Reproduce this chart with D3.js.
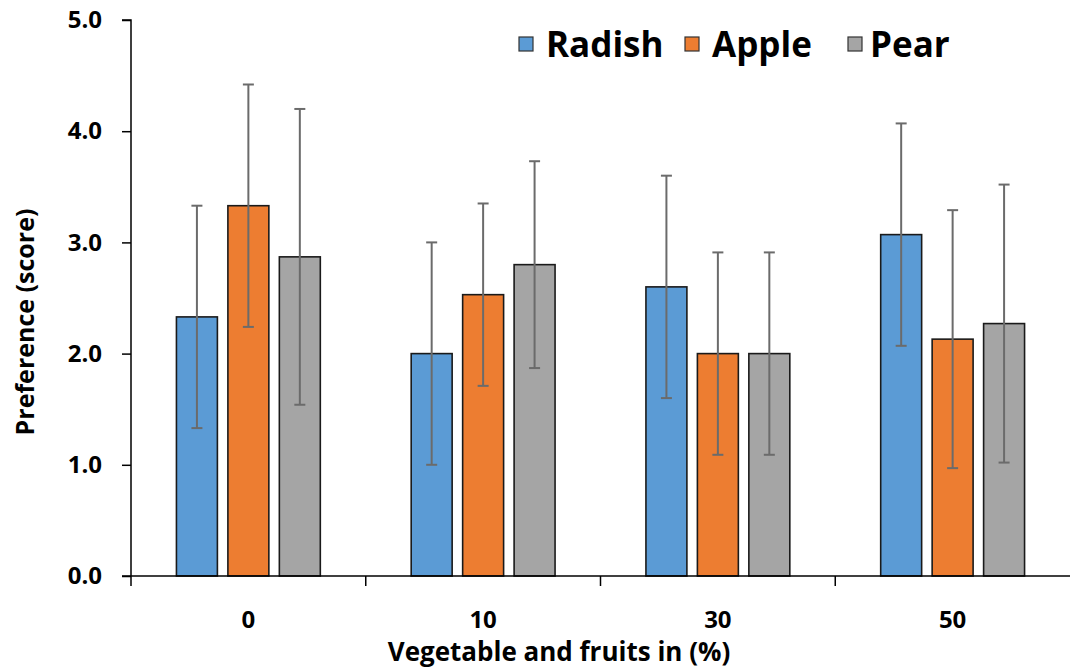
<!DOCTYPE html>
<html>
<head>
<meta charset="utf-8">
<script src="https://cdn.jsdelivr.net/npm/d3@7"></script>
<style>
  body { margin: 0; background: #fff; }
  text { font-family: "Open Sans", "Noto Sans", sans-serif; font-weight: bold; }
</style>
</head>
<body>
<svg id="chart"></svg>
<script>
// Chart data
const categories = ["0", "10", "30", "50"];
const seriesNames = ["Radish", "Apple", "Pear"];
const radish = [2.33, 2.00, 2.60, 3.07];
const apple = [3.33, 2.53, 2.00, 2.13];
const pear = [2.87, 2.80, 2.00, 2.27];
const radishErr = [1.00, 1.00, 1.00, 1.00];
const appleErr = [1.09, 0.82, 0.91, 1.16];
const pearErr = [1.33, 0.93, 0.91, 1.25];
const yTicks = [0, 1, 2, 3, 4, 5];

const colors = ["#5B9BD5", "#ED7D31", "#A5A5A5"];
const values = [radish, apple, pear];
const errors = [radishErr, appleErr, pearErr];

// SVG size
const width = 1070;
const height = 672;
const margin = { top: 20, right: 0, bottom: 96, left: 131 };

const svg = d3.select("#chart")
    .attr("width", width)
    .attr("height", height);

// Scales
const x0 = d3.scaleBand()
    .domain(categories)
    .range([margin.left, width - margin.right])
    .padding(0);

const x1 = d3.scaleBand()
    .domain(seriesNames)
    .range([0, x0.bandwidth()])
    .paddingInner(0.204)
    .paddingOuter(0.883);

const y = d3.scaleLinear()
    .domain([0, 5])
    .range([height - margin.bottom, margin.top]);

// Build rows for drawing
const rows = [];
categories.forEach((c, i) => {
    seriesNames.forEach((s, j) => {
        rows.push({ cat: c, series: s, value: values[j][i], err: errors[j][i], color: colors[j] });
    });
});

// Bars
svg.append("g")
    .selectAll("rect")
    .data(rows)
    .enter()
    .append("rect")
    .attr("x", d => x0(d.cat) + x1(d.series))
    .attr("y", d => y(d.value))
    .attr("width", x1.bandwidth())
    .attr("height", d => y(0) - y(d.value))
    .attr("fill", d => d.color)
    .attr("stroke", "#1a1a1a")
    .attr("stroke-width", 1.6);

// Error bars
const errG = svg.append("g")
    .attr("stroke", "#6b6b6b")
    .attr("stroke-width", 2);

rows.forEach(d => {
    const cx = x0(d.cat) + x1(d.series) + x1.bandwidth() / 2;
    const yTop = y(d.value + d.err);
    const yBot = y(d.value - d.err);
    errG.append("line").attr("x1", cx).attr("x2", cx).attr("y1", yTop).attr("y2", yBot);
    errG.append("line").attr("x1", cx - 5.5).attr("x2", cx + 5.5).attr("y1", yTop).attr("y2", yTop);
    errG.append("line").attr("x1", cx - 5.5).attr("x2", cx + 5.5).attr("y1", yBot).attr("y2", yBot);
});

// Y axis
const yAxis = svg.append("g")
    .attr("transform", `translate(${margin.left}, 0)`)
    .call(d3.axisLeft(y).tickValues(yTicks).tickFormat(d3.format(".1f")).tickSize(9).tickPadding(20));
yAxis.select(".domain").attr("stroke", "#000").attr("stroke-width", 1.5).attr("d", `M-9,${y(5)}H0V${y(0)}`);
yAxis.selectAll(".tick line").attr("stroke", "#000").attr("stroke-width", 1.5);
yAxis.selectAll("text")
    .attr("fill", "#000")
    .attr("font-size", "24px")
    .attr("font-family", "Open Sans, sans-serif")
    .attr("font-weight", "bold");

// X axis (ticks at category boundaries)
const xAxisG = svg.append("g")
    .attr("transform", `translate(0, ${y(0)})`);
xAxisG.append("line")
    .attr("x1", margin.left - 9)
    .attr("x2", width)
    .attr("stroke", "#000")
    .attr("stroke-width", 1.5);
xAxisG.selectAll(".sep")
    .data(categories)
    .enter()
    .append("line")
    .attr("class", "sep")
    .attr("x1", d => x0(d))
    .attr("x2", d => x0(d))
    .attr("y1", 0)
    .attr("y2", 10)
    .attr("stroke", "#000")
    .attr("stroke-width", 1.5);
xAxisG.selectAll(".lbl")
    .data(categories)
    .enter()
    .append("text")
    .attr("class", "lbl")
    .attr("x", d => x0(d) + x0.bandwidth() / 2)
    .attr("y", 52)
    .attr("text-anchor", "middle")
    .attr("font-size", "24px")
    .attr("fill", "#000")
    .text(d => d);

// Axis titles
svg.append("text")
    .attr("x", 559)
    .attr("y", 661)
    .attr("text-anchor", "middle")
    .attr("font-size", "26px")
    .attr("fill", "#000")
    .text("Vegetable and fruits in (%)");

svg.append("text")
    .attr("transform", "rotate(-90)")
    .attr("x", -322)
    .attr("y", 34)
    .attr("text-anchor", "middle")
    .attr("font-size", "25px")
    .attr("fill", "#000")
    .text("Preference (score)");

// Legend
const legendX = [519, 685, 848];
const legend = svg.append("g");
seriesNames.forEach((s, j) => {
    legend.append("rect")
        .attr("x", legendX[j])
        .attr("y", 37)
        .attr("width", 14)
        .attr("height", 14)
        .attr("fill", colors[j])
        .attr("stroke", "#333")
        .attr("stroke-width", 1.2);
    legend.append("text")
        .attr("x", legendX[j] + (j === 2 ? 22 : 27))
        .attr("y", 57)
        .attr("font-size", "35px")
        .attr("fill", "#000")
        .text(s);
});
</script>
</body>
</html>
